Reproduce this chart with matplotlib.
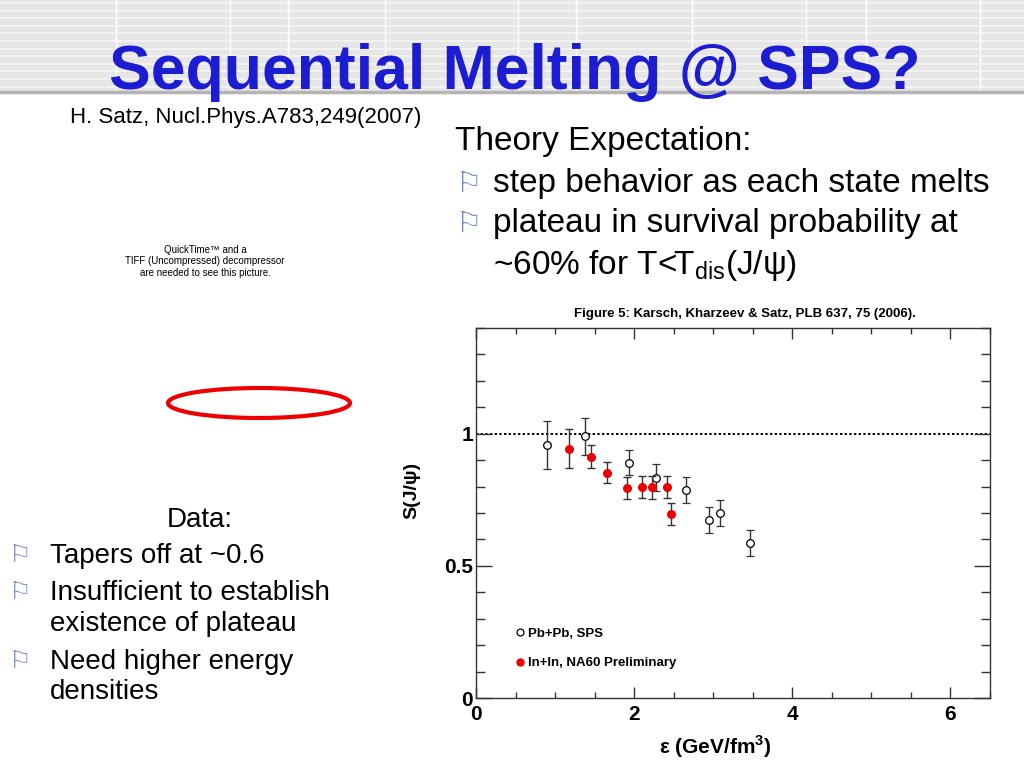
import numpy as np
import matplotlib
matplotlib.use("Agg")
import matplotlib.pyplot as plt
from matplotlib.patches import Ellipse, Rectangle
from matplotlib.lines import Line2D

# J/psi survival probability vs energy density
pb_x = [0.90, 1.38, 1.93, 2.28, 2.66, 2.95, 3.09, 3.46]
pb_y = [0.958, 0.990, 0.890, 0.834, 0.787, 0.673, 0.699, 0.586]
pb_err = [0.090, 0.071, 0.048, 0.050, 0.050, 0.050, 0.049, 0.048]

in_x = [1.18, 1.45, 1.66, 1.91, 2.10, 2.23, 2.41, 2.47]
in_y = [0.943, 0.913, 0.853, 0.795, 0.797, 0.797, 0.797, 0.697]
in_err = [0.074, 0.044, 0.040, 0.042, 0.042, 0.043, 0.042, 0.042]

x_ticks = [0, 2, 4, 6]
y_ticks = [0, 0.5, 1]
y_tick_labels = ["0", "0.5", "1"]

right_bullets = ["step behavior as each state melts",
                 "plateau in survival probability at"]
left_bullets = ["Tapers off at ~0.6", "Insufficient to establish",
                "Need higher energy"]

plt.rcParams['font.family'] = ['Liberation Sans', 'DejaVu Sans']
plt.rcParams['mathtext.fontset'] = 'custom'
plt.rcParams['mathtext.rm'] = 'Liberation Sans'
plt.rcParams['mathtext.bf'] = 'Liberation Sans:bold'

fig = plt.figure(figsize=(10.24, 7.68), dpi=100)

# slide background, in pixel coordinates
bg = fig.add_axes([0, 0, 1, 1], zorder=0)
bg.set_xlim(0, 1024)
bg.set_ylim(768, 0)
bg.axis("off")

bg.add_patch(Rectangle((0, 0), 1024, 91, color="#e6e6e6", zorder=0))
for yy in np.arange(3, 90, 7.6):
    bg.axhline(yy, xmin=0, xmax=1, color="#f3f3f3", lw=1.4, zorder=1)
for xx in [116, 230, 288, 385, 518, 576, 692, 806, 866, 980]:
    bg.plot([xx, xx], [0, 91], color="white", lw=1, zorder=1)
bg.plot([0, 1024], [92, 92], color="#b4b4b4", lw=2.5, zorder=2)

bg.text(515, 89, "Sequential Melting @ SPS?", fontsize=45, fontweight="bold",
        color="#1c1cd2", ha="center", va="baseline", zorder=3)
bg.text(70, 123, "H. Satz, Nucl.Phys.A783,249(2007)", fontsize=16,
        ha="left", va="baseline")

bg.text(455, 150, "Theory Expectation:", fontsize=24, ha="left", va="baseline")
for i, s in enumerate(right_bullets):
    yb = 192 + 40 * i
    bg.text(455, yb - 1, "\u2690", fontsize=21, color="#7288cc",
            family="DejaVu Sans", ha="left", va="baseline")
    bg.text(493, yb, s, fontsize=24, ha="left", va="baseline")
bg.text(493, 274, r"~60% for T<T$_\mathrm{dis}$(J/ψ)", fontsize=24,
        ha="left", va="baseline")

for i, s in enumerate(["QuickTime\u2122 and a", "TIFF (Uncompressed) decompressor",
                       "are needed to see this picture."]):
    bg.text(205, 250 + 11.5 * i, s, fontsize=7, ha="center", va="center")

bg.add_patch(Ellipse((259, 403), 182, 30, fill=False, edgecolor="#ee0000",
                     lw=3, zorder=3))

bg.text(200, 527, "Data:", fontsize=20, ha="center", va="baseline")
left_y = [563, 600, 669]
for yb, s in zip(left_y, left_bullets):
    bg.text(9, yb - 1, "\u2690", fontsize=18, color="#7288cc",
            family="DejaVu Sans", ha="left", va="baseline")
    bg.text(50, yb, s, fontsize=20, ha="left", va="baseline")
bg.text(50, 631, "existence of plateau", fontsize=20, ha="left", va="baseline")
bg.text(50, 699, "densities", fontsize=20, ha="left", va="baseline")

# the physics plot
ax = fig.add_axes([476 / 1024, 70 / 768, 514 / 1024, 370 / 768], zorder=2)
ax.set_xlim(0, 6.5)
ax.set_ylim(0, 1.4)

ax.axhline(1.0, color="black", lw=1.4, ls=(0, (1.2, 1.2)), zorder=1)

ax.errorbar(pb_x, pb_y, yerr=pb_err, fmt="o", ms=5.5, mfc="white",
            mec="black", mew=0.9, ecolor="#333333", elinewidth=1,
            capsize=2.8, capthick=1, zorder=3)
ax.errorbar(in_x, in_y, yerr=in_err, fmt="o", ms=5.5, mfc="#ee0000",
            mec="#ee0000", ecolor="#333333", elinewidth=1,
            capsize=2.8, capthick=1, zorder=4)

ax.set_xticks(x_ticks)
ax.set_xticks(np.arange(0, 6.6, 0.5), minor=True)
ax.set_yticks(y_ticks)
ax.set_yticklabels(y_tick_labels)
ax.set_yticks(np.arange(0, 1.41, 0.1), minor=True)
ax.tick_params(axis="both", which="both", direction="in", top=True,
               right=True, color="#333333", width=1)
ax.tick_params(axis="x", which="major", length=8, labelsize=15, pad=5)
ax.tick_params(axis="x", which="minor", length=4)
ax.tick_params(axis="y", which="major", length=11.5, labelsize=15, pad=2)
ax.tick_params(axis="y", which="minor", length=6.5)
for lab in ax.get_xticklabels() + ax.get_yticklabels():
    lab.set_fontweight("bold")
for sp in ax.spines.values():
    sp.set_color("#333333")
    sp.set_linewidth(1)

ax.set_xlabel(r"ε (GeV/fm$^{\mathbf{3}}$)", fontsize=15, fontweight="bold")
ax.xaxis.set_label_coords(0.465, -0.095)
ax.set_ylabel("S(J/ψ)", fontsize=14, fontweight="bold")
ax.yaxis.set_label_coords(-0.108, 0.56)

ax.text(0.523, 1.038, "Figure 5: Karsch, Kharzeev & Satz, PLB 637, 75 (2006).",
        fontsize=9.5, fontweight="bold", ha="center", va="center",
        transform=ax.transAxes)

handles = [
    Line2D([], [], ls="none", marker="o", ms=5, mfc="white", mec="black", mew=0.9),
    Line2D([], [], ls="none", marker="o", ms=5, mfc="#ee0000", mec="#ee0000"),
]
ax.legend(handles, ["Pb+Pb, SPS", "In+In, NA60 Preliminary"],
          loc="lower left", bbox_to_anchor=(0.055, 0.045), frameon=False,
          handlelength=0.6, handletextpad=0.3, labelspacing=1.3,
          prop={"weight": "bold", "size": 9.5})

fig.savefig("out.png", dpi=100)
